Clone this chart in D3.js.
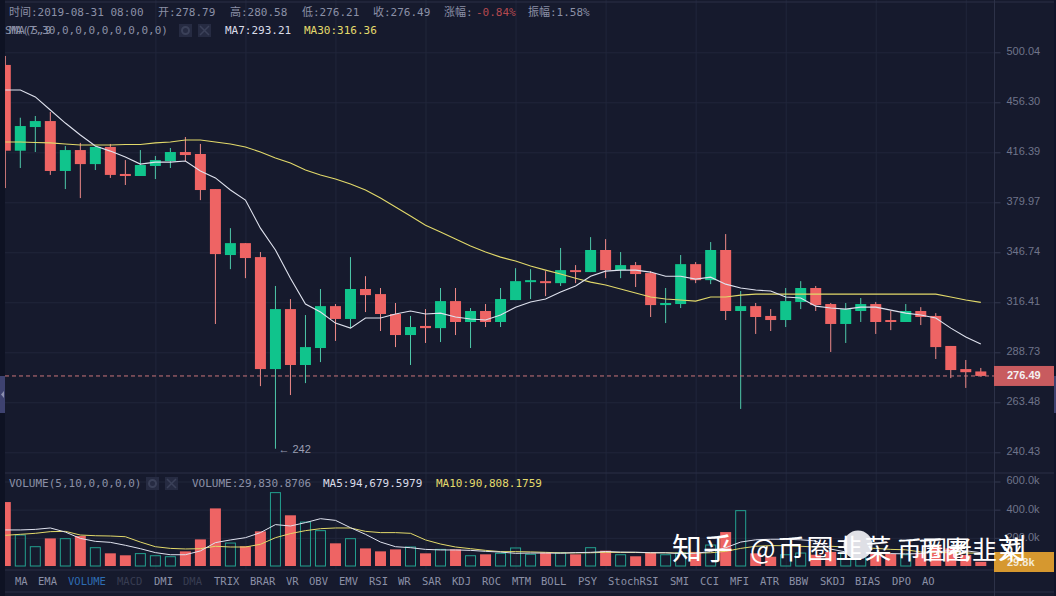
<!DOCTYPE html>
<html><head><meta charset="utf-8">
<script src="https://cdn.jsdelivr.net/npm/d3@7/dist/d3.min.js"></script>
<style>
html,body{margin:0;padding:0;background:#161a2d;overflow:hidden}
svg{display:block}
.mono{font-family:"DejaVu Sans Mono","Noto Sans CJK SC",monospace;font-size:11px}
</style></head><body><svg id="c" width="1056" height="596"></svg>
<script>
const opens=[488.6,417.6,436.1,440.9,402.4,418.1,407.5,420.5,400.2,398.7,406.1,409.8,416.6,415.1,389.3,345.0,352.6,343.7,280.0,312.5,282.1,291.0,314.2,306.9,324.2,321.2,309.7,298.0,303.0,301.8,317.1,305.2,311.4,305.2,317.7,328.3,328.9,327.7,335.6,334.4,348.2,335.6,338.7,333.8,314.8,315.4,339.3,329.5,348.2,311.4,314.2,308.6,306.3,316.6,324.8,315.4,304.1,311.4,315.4,306.3,305.2,311.4,308.6,292.1,280.0,278.79];
const highs=[496.7,443.6,445.0,448.3,421.2,423.6,421.2,422.8,410.5,418.1,413.6,419.7,428.2,422.8,389.3,362.4,352.6,346.9,326.0,318.3,309.1,324.2,315.4,343.7,331.9,324.8,316.0,308.6,312.5,324.8,324.8,313.1,315.4,324.8,336.8,336.2,335.0,349.5,338.7,356.5,355.2,346.9,340.6,335.0,324.8,345.0,340.6,353.3,358.5,323.0,316.0,312.5,324.8,328.9,326.0,316.0,316.0,318.9,316.6,311.4,315.4,313.6,310.2,292.1,284.7,280.58];
const lows=[390.0,404.6,416.6,399.5,389.3,382.9,403.1,397.3,392.2,398.7,396.5,404.6,409.8,381.5,304.1,336.2,330.7,271.4,242.0,267.0,272.9,283.6,294.8,301.8,310.8,300.2,291.5,282.1,293.7,294.2,298.0,291.0,302.4,302.4,317.7,318.3,320.0,326.0,327.7,334.4,330.7,330.7,325.4,308.0,304.6,313.1,327.7,327.1,306.3,260.3,298.6,300.2,302.4,312.5,311.4,288.9,293.7,305.2,298.6,300.7,305.2,303.5,285.2,275.4,270.5,276.21];
const closes=[417.6,436.9,440.9,402.4,418.1,407.5,420.5,399.5,398.7,406.8,410.5,416.6,414.3,388.6,345.6,352.6,343.1,280.0,312.5,282.1,291.5,314.2,306.9,324.2,320.6,309.7,298.0,302.4,301.8,317.1,305.2,311.4,305.2,318.3,328.9,329.5,327.7,335.6,334.4,348.2,335.6,338.7,333.2,314.8,316.0,339.3,329.5,348.2,311.4,314.2,308.0,306.3,317.1,324.8,314.8,304.1,312.5,315.4,305.2,305.2,311.4,308.0,291.5,279.5,278.4,276.49];
const ma7=[466.7,466.7,460.8,449.9,439.3,429.8,421.2,417.3,412.8,407.5,409.0,409.0,409.8,402.4,397.3,388.6,381.5,362.4,348.2,330.7,315.4,310.8,304.6,301.8,307.4,307.4,309.7,311.4,309.7,310.2,308.0,306.9,306.3,309.1,313.6,316.6,318.3,322.4,326.0,331.9,335.0,335.6,335.6,334.4,331.9,331.9,330.1,331.3,327.1,324.8,323.6,323.0,319.5,318.9,314.2,313.1,312.5,313.6,313.6,311.9,310.2,309.1,307.4,301.8,296.9,293.21];
const ma30=[424.3,424.3,423.9,423.6,422.8,422.0,422.0,422.0,422.4,422.4,423.6,424.3,425.9,425.9,424.3,422.8,420.5,416.6,412.1,408.3,403.1,399.5,396.5,392.9,388.6,382.9,376.7,370.5,364.4,359.8,355.2,350.7,346.9,343.7,341.2,338.1,335.6,333.2,330.7,328.3,326.6,324.2,321.8,319.5,318.3,317.7,317.1,319.5,319.5,320.6,321.2,321.2,321.2,321.2,321.2,321.2,321.2,321.2,321.2,321.2,321.2,321.2,321.2,319.5,317.7,316.36];
const volumes=[454,220,137,196,194,213,130,90,76,88,73,66,104,189,409,163,140,246,521,360,312,251,161,194,125,104,118,135,90,118,118,73,83,90,128,83,95,95,83,130,109,80,69,95,80,95,100,149,241,393,90,66,80,92,80,100,90,85,95,85,80,95,145,125,78.6,29.83];
const volMa5=[256,256,260,270,241,196,175,168,147,123,95,80,80,107,166,185,201,237,294,284,308,336,324,272,225,170,137,130,118,114,114,111,104,99,90,92,92,91,95,97,103,99,98,94,94,88,90,103,130,170,186,190,190,186,178,120,100,88,88,88,86,88,100,110,108,94.68];
const volMa10=[218,225,232,244,246,220,215,213,208,170,137,125,121,123,140,135,135,154,201,230,251,265,270,270,246,237,237,232,185,156,135,123,111,102,102,100,97,93,93,94,97,96,96,94,94,92,92,94,104,125,140,145,144,140,135,140,135,130,125,118,115,100,95,95,92,90.81];
const priceTicks=[500.04,456.30,416.39,379.97,346.74,316.41,288.73,263.48,240.43];
const volumeTicks=[200,400,600];
const gridIndex=[10,16,22,28,34,40,46,52,58,64];
const lastPrice=276.49,lastVolume=29.83,lowLabel=242,lowIndex=18;
const headerLabels=[["时间:2019-08-31 08:00",9],["开:278.79",158],["高:280.58",230],["低:276.21",302],["收:276.49",373],["涨幅:",444],["振幅:1.58%",528]];
const tabNames=["MA","EMA","VOLUME","MACD","DMI","DMA","TRIX","BRAR","VR","OBV","EMV","RSI","WR","SAR","KDJ","ROC","MTM","BOLL","PSY","StochRSI","SMI","CCI","MFI","ATR","BBW","SKDJ","BIAS","DPO","AO"];
const tabStarts=[15,38,68,117,154,183,214,250,286,309,339,369,398,422,452,482,512,541,578,608,670,700,730,760,789,820,855,892,922];

const RED="#ee6464",GREEN="#10c48c",HOLLOW="#23a08f",GRID="#21263b",TXT="#8b90a6",AXT="#6f748a";
const svg=d3.select("#c");
const x=d3.scaleLinear().domain([0,65]).range([5.3,980.8]);
const y=d3.scaleLog().domain([240.43,500.04]).range([452.3,52.3]);
const yv=d3.scaleLinear().domain([0,600]).range([566,481.5]);
const idx=d3.range(opens.length);

svg.append("rect").attr("width",1056).attr("height",596).attr("fill","#161a2d");
svg.append("rect").attr("width",5).attr("height",596).attr("fill","#0e1223");
svg.append("rect").attr("x",1054).attr("width",2).attr("height",596).attr("fill","#10142a");
[[0,376,37],[1054,376,37]].forEach(d=>svg.append("rect").attr("x",d[0]).attr("y",d[1]).attr("width",d[0]?2:5).attr("height",d[2]).attr("fill","#3e4270"));
svg.append("path").attr("d","M4 391 L1 394.5 L4 398Z").attr("fill","#8d90b0");

const defs=svg.append("defs");
defs.append("clipPath").attr("id","cp").append("rect").attr("x",5).attr("y",40).attr("width",989).attr("height",433);
defs.append("clipPath").attr("id","cv").append("rect").attr("x",5).attr("y",473).attr("width",989).attr("height",97);

// grids
const gridStyle=g=>{g.select(".domain").remove();g.selectAll("line").attr("stroke",GRID);g.selectAll("text").remove();};
svg.append("g").attr("transform","translate(0,569)").call(d3.axisBottom(x).tickValues(gridIndex).tickSize(-569).tickFormat("")).call(gridStyle);
svg.append("g").attr("transform","translate(994,0)").call(d3.axisLeft(y).tickValues(priceTicks).tickSize(989).tickFormat("")).call(gridStyle);
svg.append("g").attr("transform","translate(994,0)").call(d3.axisLeft(yv).tickValues(volumeTicks).tickSize(989).tickFormat("")).call(gridStyle);
[2,473,570,592].forEach(v=>svg.append("line").attr("x1",5).attr("x2",1054).attr("y1",v).attr("y2",v).attr("stroke","#2a2f46"));
svg.append("line").attr("x1",994.5).attr("x2",994.5).attr("y1",0).attr("y2",596).attr("stroke","#2d3248");

// axes
const axisStyle=g=>{g.select(".domain").remove();g.selectAll("line").attr("stroke","#33384f");
  g.selectAll("text").attr("fill",AXT).attr("font-family","'Liberation Sans',Arial,sans-serif").attr("font-size",11).attr("dy","0.22em");};
svg.append("g").attr("transform","translate(994.5,0)").call(d3.axisRight(y).tickValues(priceTicks).tickSize(6).tickPadding(6).tickFormat(d3.format(".2f"))).call(axisStyle);
svg.append("g").attr("transform","translate(994.5,0)").call(d3.axisRight(yv).tickValues(volumeTicks).tickSize(6).tickPadding(6).tickFormat(d=>d3.format(".1f")(d)+"k")).call(axisStyle);

const up=i=>closes[i]>=opens[i];
const main=svg.append("g").attr("clip-path","url(#cp)");
const cw=11;
main.append("g").selectAll("line").data(idx).join("line")
 .attr("x1",i=>x(i)).attr("x2",i=>x(i)).attr("y1",i=>y(highs[i])).attr("y2",i=>y(lows[i]))
 .attr("stroke",i=>up(i)?"#4fc9aa":"#ef8a88").attr("stroke-width",1);
main.append("g").selectAll("rect").data(idx).join("rect")
 .attr("x",i=>x(i)-cw/2).attr("width",cw)
 .attr("y",i=>y(Math.max(opens[i],closes[i])))
 .attr("height",i=>Math.max(1.2,Math.abs(y(opens[i])-y(closes[i]))))
 .attr("fill",i=>up(i)?GREEN:RED);
const lp=d3.line().x((d,i)=>x(i)).y(d=>y(d));
main.append("path").attr("d",lp(ma30)).attr("fill","none").attr("stroke","#e2d96a").attr("stroke-width",1.1);
main.append("path").attr("d",lp(ma7)).attr("fill","none").attr("stroke","#dfe2ee").attr("stroke-width",1.1);

svg.append("line").attr("x1",5).attr("x2",994).attr("y1",y(lastPrice)).attr("y2",y(lastPrice))
 .attr("stroke","#c9747a").attr("stroke-dasharray","4,3");
svg.append("rect").attr("x",994).attr("y",y(lastPrice)-10).attr("width",60).attr("height",20).attr("fill","#c85b5f");
svg.append("text").attr("x",1007).attr("y",y(lastPrice)+3.5).text(d3.format(".2f")(lastPrice))
 .attr("fill","#f4f0f2").attr("font-family","'Liberation Sans',Arial,sans-serif").attr("font-weight",700).attr("font-size",11);
svg.append("text").attr("x",x(lowIndex)+3).attr("y",y(lowLabel)+4).text("← "+lowLabel)
 .attr("fill","#9a9eb2").attr("font-family","'Liberation Sans',Arial,sans-serif").attr("font-size",11);

// volume
const vol=svg.append("g").attr("clip-path","url(#cv)");
vol.append("g").selectAll("rect").data(idx).join("rect")
 .attr("x",i=>x(i)-(up(i)?cw/2-0.5:cw/2)).attr("width",i=>up(i)?cw-1:cw)
 .attr("y",i=>yv(volumes[i])).attr("height",i=>yv(0)-yv(volumes[i]))
 .attr("fill",i=>up(i)?"none":RED).attr("stroke",i=>up(i)?HOLLOW:"none");
const lv=d3.line().x((d,i)=>x(i)).y(d=>yv(d));
vol.append("path").attr("d",lv(volMa10)).attr("fill","none").attr("stroke","#e2d96a").attr("stroke-width",1);
vol.append("path").attr("d",lv(volMa5)).attr("fill","none").attr("stroke","#dfe2ee").attr("stroke-width",1);
svg.append("rect").attr("x",994).attr("y",552).attr("width",60).attr("height",20).attr("fill","#d6982f");
svg.append("text").attr("x",1007).attr("y",yv(lastVolume)+4).text(d3.format(".1f")(lastVolume)+"k")
 .attr("fill","#f4ead6").attr("font-family","'Liberation Sans',Arial,sans-serif").attr("font-weight",700).attr("font-size",11);

// text rows
const T=(s,tx,ty,fill,extra)=>{const t=svg.append("text").attr("class","mono").attr("x",tx).attr("y",ty).attr("fill",fill).text(s);if(extra)t.attr("font-weight",extra);return t;};
headerLabels.forEach(d=>T(d[0],d[1],16,TXT));
T("-0.84%",476,16,"#b5494f");
T("MA(7,30,0,0,0,0,0,0,0,0)",9,34,TXT);
T("SMA(5,9",5,34,TXT);
T("MA7:293.21",225,34,"#dadce8");
T("MA30:316.36",304,34,"#e4da6c");
T("VOLUME(5,10,0,0,0,0)",9,487,TXT);
T("VOLUME:29,830.8706",192,487,TXT);
T("MA5:94,679.5979",323,487,"#dadce8");
T("MA10:90,808.1759",436,487,"#e4da6c");
const icon=(ix,iy)=>{svg.append("rect").attr("x",ix).attr("y",iy).attr("width",13).attr("height",13).attr("fill","#262b42");};
const cross=(ix,iy)=>{svg.append("path").attr("d",`M${ix+2} ${iy+2}L${ix+11} ${iy+11}M${ix+11} ${iy+2}L${ix+2} ${iy+11}`).attr("stroke","#3b4159").attr("stroke-width",1.5);};
const gear=(ix,iy)=>{svg.append("circle").attr("cx",ix+6.5).attr("cy",iy+6.5).attr("r",3.5).attr("fill","none").attr("stroke","#3b4159").attr("stroke-width",2);};
icon(179,24);gear(179,24);icon(198,24);cross(198,24);
icon(146,477);gear(146,477);icon(165,477);cross(165,477);

const tabFill=n=>n==="VOLUME"?"#2e6db4":(n==="MACD"||n==="DMA")?"#383d52":TXT;
svg.append("g").selectAll("text").data(tabNames).join("text")
 .attr("class","mono").style("font-size","10.5px")
 .attr("x",(d,i)=>tabStarts[i]).attr("y",585).attr("fill",tabFill).text(d=>d);

// watermark
svg.append("circle").attr("cx",858).attr("cy",545).attr("r",14.5).attr("fill","#dfe0e6");
const W=(s,tx,fs,ls)=>svg.append("text").attr("x",tx).attr("y",559).attr("fill","#fff")
 .attr("font-family","'Noto Sans CJK SC',sans-serif").attr("font-size",fs).attr("letter-spacing",ls||0).text(s);
W("知乎",672,30,1);
W("@币圈韭菜",750,27,2);
W("币圈老",897,25,0);
W("币圈韭菜",918,25,2);
W("刘",998,28,0);
</script></body></html>
